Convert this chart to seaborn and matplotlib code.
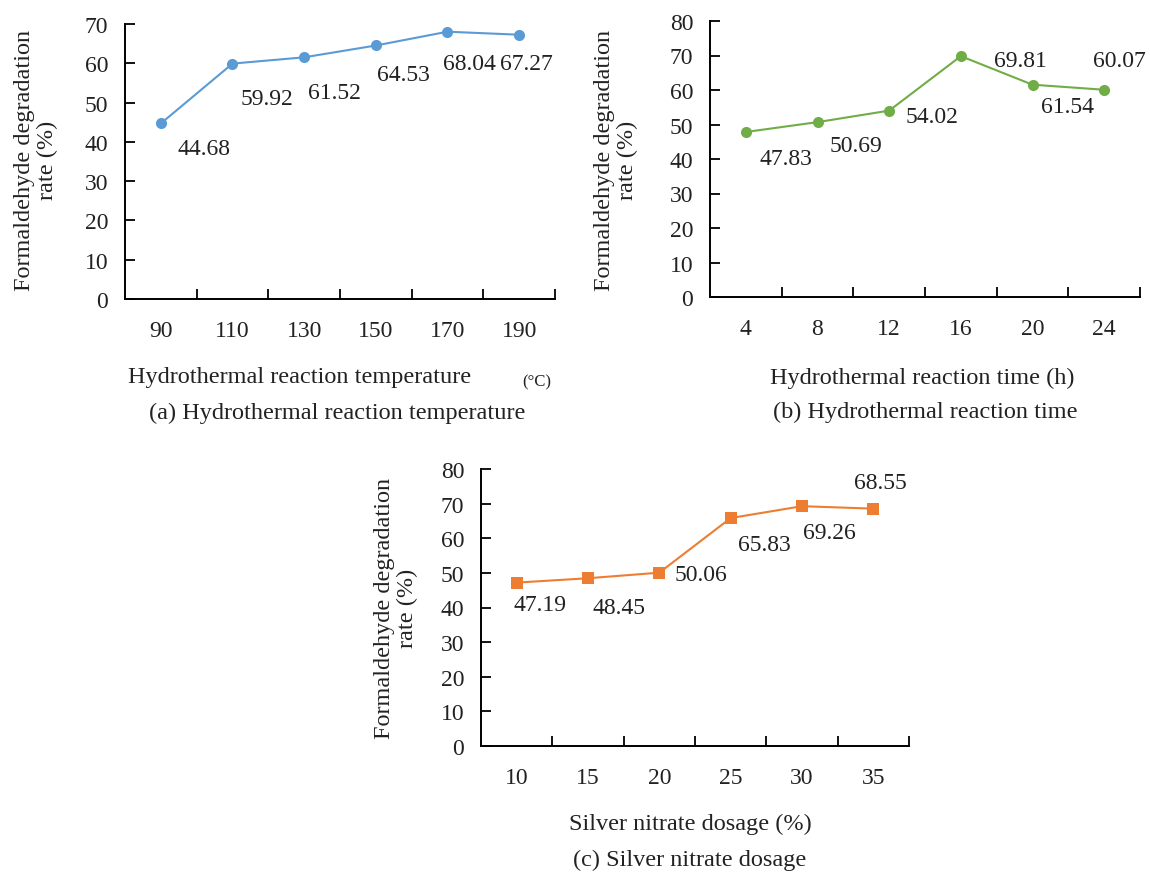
import matplotlib
matplotlib.use("Agg")
import matplotlib.pyplot as plt
import seaborn as sns
import pandas as pd
import numpy as np

# ---- data ----
temp_labels = ["90", "110", "130", "150", "170", "190"]
temp_values = [44.68, 59.92, 61.52, 64.53, 68.04, 67.27]

time_labels = ["4", "8", "12", "16", "20", "24"]
time_values = [47.83, 50.69, 54.02, 69.81, 61.54, 60.07]

silver_labels = ["10", "15", "20", "25", "30", "35"]
silver_values = [47.19, 48.45, 50.06, 65.83, 69.26, 68.55]

# label offsets in points (dx, dy)
temp_offsets = [(31, -18), (25, -25), (22, -25), (20, -21), (16, -23), (5, -21)]
time_offsets = [(29, -19), (28, -17), (31, -4), (43, -3), (25, -16), (11, 21)]
silver_offsets = [(17, -16), (22, -21), (30, -1), (24, -19), (20, -19), (5, 19)]

sns.set_theme(style="white")
plt.rcParams["font.family"] = ["Liberation Serif", "DejaVu Serif"]

fig = plt.figure(figsize=(11.5, 8.78), dpi=100)
W, H = 1150, 878

def make_ax(l, r, t, b):
    return fig.add_axes([l / W, 1 - b / H, (r - l) / W, (b - t) / H])

ax_a = make_ax(125, 555, 25, 300)
ax_b = make_ax(710, 1140, 22, 298)
ax_c = make_ax(481, 909, 470, 747)

panels = [
    (ax_a, temp_labels, temp_values, temp_offsets, "#5B9BD5", "o", 70),
    (ax_b, time_labels, time_values, time_offsets, "#70AD47", "o", 80),
    (ax_c, silver_labels, silver_values, silver_offsets, "#ED7D31", "s", 80),
]

for ax, labels, values, offsets, color, marker, ymax in panels:
    df = pd.DataFrame({"x": labels, "y": values})
    sns.lineplot(data=df, x="x", y="y", ax=ax, color=color, marker=marker,
                 markersize=8, linewidth=1.5, markeredgewidth=0, sort=False)
    ax.set_xlim(-0.5, len(labels) - 0.5)
    ax.set_ylim(0, ymax)
    ax.set_yticks(np.arange(0, ymax + 1, 10))
    ax.set_yticklabels([str(v) for v in range(0, ymax + 1, 10)])
    # major ticks at category boundaries, labels at minor ticks at centers
    ax.set_xticks(np.arange(0.5, len(labels), 1.0))
    ax.set_xticklabels([])
    ax.set_xticks(np.arange(len(labels)), minor=True)
    ax.set_xticklabels(labels, minor=True)
    ax.tick_params(axis="x", which="major", direction="in", length=7, width=1.3,
                   color="black", bottom=True)
    ax.tick_params(axis="x", which="minor", length=0, pad=15, labelsize=17,
                   labelcolor="#222222")
    ax.tick_params(axis="y", direction="in", length=7, width=1.3, color="black",
                   left=True, pad=12, labelsize=17, labelcolor="#222222")
    for s in ["top", "right"]:
        ax.spines[s].set_visible(False)
    for s in ["left", "bottom"]:
        ax.spines[s].set_color("black")
        ax.spines[s].set_linewidth(1.4)
    ax.set_xlabel("")
    ax.set_ylabel("")
    ax.grid(False)
    for i, (v, off) in enumerate(zip(values, offsets)):
        ax.annotate(f"{v:.2f}", xy=(i, v), xytext=off, textcoords="offset points",
                    ha="center", va="center", fontsize=17, color="#222222",
                    annotation_clip=False)

def ftext(x, y, s, **kw):
    fig.text(x / W, 1 - y / H, s, ha=kw.pop("ha", "center"), va=kw.pop("va", "center"),
             color="#222222", **kw)

ylab = "Formaldehyde degradation\nrate (%)"
ftext(36, 160, ylab, rotation=90, fontsize=17.5, linespacing=1.1)
ftext(616, 160, ylab, rotation=90, fontsize=17.5, linespacing=1.1)
ftext(396, 608, ylab, rotation=90, fontsize=17.5, linespacing=1.1)

ftext(300, 378, "Hydrothermal reaction temperature", fontsize=17.5)
ftext(537, 382, "(°C)", fontsize=12)
ftext(337, 413, "(a) Hydrothermal reaction temperature", fontsize=17.5)

ftext(922, 378, "Hydrothermal reaction time (h)", fontsize=17.5)
ftext(925, 412, "(b) Hydrothermal reaction time", fontsize=17.5)

ftext(690, 824, "Silver nitrate dosage (%)", fontsize=17.5)
ftext(690, 860, "(c) Silver nitrate dosage", fontsize=17.5)

fig.savefig("out.png", dpi=100, facecolor="white")
